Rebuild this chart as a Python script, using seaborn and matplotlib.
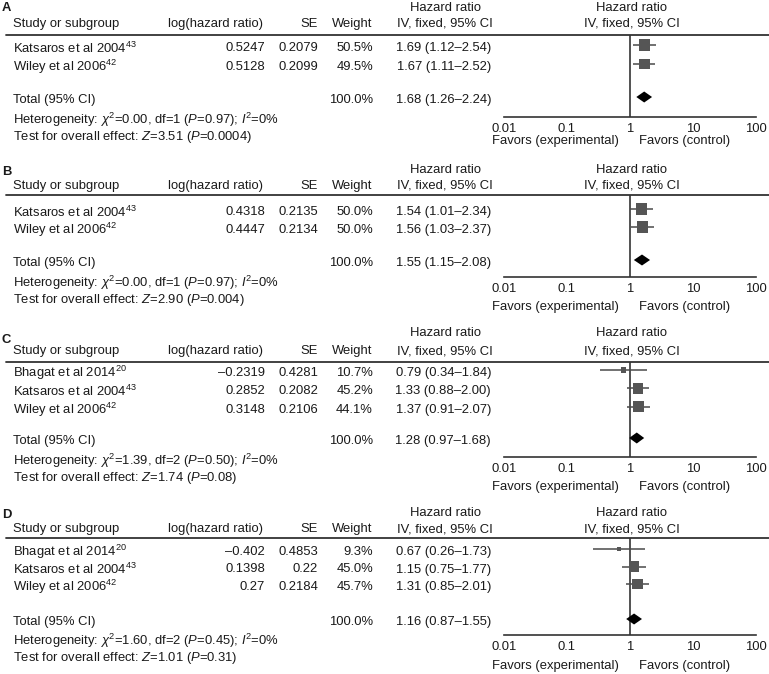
import matplotlib
matplotlib.use('Agg')
import matplotlib.pyplot as plt
import seaborn as sns
from matplotlib.lines import Line2D

# ---- data ----
panel_letters = ['A', 'B', 'C', 'D']
studies = [
    ['Katsaros et al 2004', 'Wiley et al 2006'],
    ['Katsaros et al 2004', 'Wiley et al 2006'],
    ['Bhagat et al 2014', 'Katsaros et al 2004', 'Wiley et al 2006'],
    ['Bhagat et al 2014', 'Katsaros et al 2004', 'Wiley et al 2006'],
]
refs = [[43, 42], [43, 42], [20, 43, 42], [20, 43, 42]]
log_hr = [[0.5247, 0.5128], [0.4318, 0.4447],
          [-0.2319, 0.2852, 0.3148], [-0.402, 0.1398, 0.27]]
se = [[0.2079, 0.2099], [0.2135, 0.2134],
      [0.4281, 0.2082, 0.2106], [0.4853, 0.22, 0.2184]]
weight = [[50.5, 49.5], [50.0, 50.0], [10.7, 45.2, 44.1], [9.3, 45.0, 45.7]]
hr = [[1.69, 1.67], [1.54, 1.56], [0.79, 1.33, 1.37], [0.67, 1.15, 1.31]]
hr_lo = [[1.12, 1.11], [1.01, 1.03], [0.34, 0.88, 0.91], [0.26, 0.75, 0.85]]
hr_hi = [[2.54, 2.52], [2.34, 2.37], [1.84, 2.00, 2.07], [1.73, 1.77, 2.01]]
total_hr = [1.68, 1.55, 1.28, 1.16]
total_lo = [1.26, 1.15, 0.97, 0.87]
total_hi = [2.24, 2.08, 1.68, 1.55]
chi2 = ['0.00', '0.00', '1.39', '1.60']
dfree = [1, 1, 2, 2]
het_p = ['0.97', '0.97', '0.50', '0.45']
i2 = [0, 0, 0, 0]
z_val = ['3.51', '2.90', '1.74', '1.01']
z_p = ['0.0004', '0.004', '0.08', '0.31']
x_ticks = [0.01, 0.1, 1, 10, 100]
x_tick_labels = ['0.01', '0.1', '1', '10', '100']

# ---- layout (pixel rows of each panel) ----
layout = [
    dict(letter=8, top=8, head=24, line=35, row0=48, step=19, total=100,
         het=120, test=137, axis=117, favors=141),
    dict(letter=172, top=170, head=186, line=195, row0=212, step=18, total=263,
         het=283, test=300, axis=277, favors=307),
    dict(letter=340, top=333, head=351, line=362, row0=373, step=18.3, total=441,
         het=461, test=478, axis=457, favors=487),
    dict(letter=515, top=513, head=529, line=538, row0=552, step=17.5, total=622,
         het=641, test=658, axis=635, favors=666),
]

W, H = 769, 674
FS = 9.4
TXT = '#1a1a1a'

sns.set_style('white')
plt.rcParams['font.family'] = ['Liberation Sans', 'DejaVu Sans']
plt.rcParams['mathtext.fontset'] = 'custom'
plt.rcParams['mathtext.rm'] = 'Liberation Sans'
plt.rcParams['mathtext.it'] = 'Liberation Sans:italic'
plt.rcParams['mathtext.bf'] = 'Liberation Sans:bold'

fig = plt.figure(figsize=(W / 100, H / 100), dpi=100)


def put(x, y, s, ha='left', **kw):
    fig.text(x / W, 1 - y / H, s, ha=ha, va='center', fontsize=FS, color=TXT, **kw)


def num(v):
    return f'{v:g}'.replace('-', '\u2013')


for p, g in enumerate(layout):
    # headers
    put(2, g['letter'], panel_letters[p], weight='bold')
    put(13, g['head'], 'Study or subgroup')
    put(263, g['head'], 'log(hazard ratio)', ha='right')
    put(318, g['head'], 'SE', ha='right')
    put(372, g['head'], 'Weight', ha='right')
    for cx in (445, 632):
        put(cx, g['top'], 'Hazard ratio', ha='center')
        put(cx, g['head'], 'IV, fixed, 95% CI', ha='center')
    fig.add_artist(Line2D([6 / W, 1], [1 - g['line'] / H] * 2,
                          color='#333333', lw=1.3))

    # study rows
    for i, name in enumerate(studies[p]):
        y = g['row0'] + i * g['step']
        put(13, y, f'{name}$^{{{refs[p][i]}}}$')
        put(265, y, num(log_hr[p][i]), ha='right')
        put(318, y, num(se[p][i]), ha='right')
        put(373, y, f'{weight[p][i]:.1f}%', ha='right')
        put(491, y, f'{hr[p][i]:.2f} ({hr_lo[p][i]:.2f}\u2013{hr_hi[p][i]:.2f})', ha='right')

    # total + stats
    put(13, g['total'], 'Total (95% CI)')
    put(373, g['total'], f'{sum(weight[p]):.1f}%', ha='right')
    put(491, g['total'], f'{total_hr[p]:.2f} ({total_lo[p]:.2f}\u2013{total_hi[p]:.2f})', ha='right')
    put(13, g['het'], f'Heterogeneity: $\\chi^2$={chi2[p]}, df={dfree[p]} '
                      f'($P$={het_p[p]}); $I^2$={i2[p]}%')
    put(13, g['test'], f'Test for overall effect: $Z$={z_val[p]} ($P$={z_p[p]})')
    put(555, g['favors'], 'Favors (experimental)', ha='center')
    put(685, g['favors'], 'Favors (control)', ha='center')

    # forest plot
    ax = fig.add_axes([504 / W, 1 - g['axis'] / H, 252 / W,
                       (g['axis'] - g['line']) / H])
    ax.patch.set_alpha(0)
    ax.set_xscale('log')
    ax.set_xlim(0.01, 100)
    base = g['row0'] - 3
    ax.set_ylim((g['axis'] - base) / g['step'], (g['line'] - base) / g['step'])
    rows = list(range(len(studies[p])))
    total_row = (g['total'] - g['row0']) / g['step']

    ax.axvline(1, color='#444444', lw=1.3, zorder=1)
    ax.hlines(rows, hr_lo[p], hr_hi[p], color='#4a4a4a', lw=1.1, zorder=2)
    sns.scatterplot(x=hr[p], y=rows, size=weight[p], sizes=(0, 126),
                    size_norm=(0, 100), marker='s', color='#555555',
                    edgecolor='none', linewidth=0, legend=False, ax=ax, zorder=3)
    h = 5.5 / g['step']
    ax.fill([total_lo[p], total_hr[p], total_hi[p], total_hr[p]],
            [total_row, total_row - h, total_row, total_row + h],
            color='black', lw=0, zorder=4)

    for side in ('left', 'right', 'top'):
        ax.spines[side].set_visible(False)
    ax.spines['bottom'].set_color('#333333')
    ax.spines['bottom'].set_linewidth(1.2)
    ax.set_yticks([])
    ax.set_xticks(x_ticks)
    ax.set_xticklabels(x_tick_labels)
    ax.minorticks_off()
    ax.tick_params(axis='x', direction='inout', length=7, width=1.1,
                   colors='#333333', labelcolor=TXT, labelsize=FS, pad=1)
    ax.set_xlabel('')
    ax.set_ylabel('')

fig.savefig('out.png', dpi=100)
